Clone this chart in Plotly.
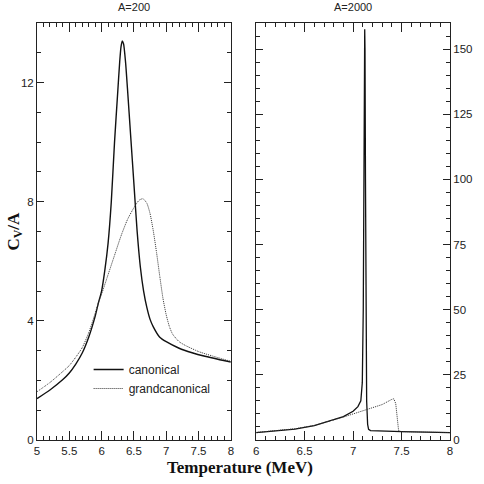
import plotly.graph_objects as go

# ---- data ----
t200_can = [5.0, 5.2, 5.4, 5.5, 5.6, 5.7, 5.8, 5.9, 5.95, 6.0, 6.05, 6.1, 6.15, 6.2, 6.25, 6.28, 6.30, 6.32, 6.34,
            6.37, 6.40, 6.45, 6.50, 6.55, 6.6, 6.65, 6.7, 6.75, 6.8, 6.9, 7.0, 7.2, 7.4, 7.6, 7.8, 8.0]
c200_can = [1.39, 1.68, 2.03, 2.25, 2.55, 2.92, 3.45, 4.15, 4.6, 5.0, 5.7, 6.6, 8.0, 10.0, 11.7, 12.7, 13.2, 13.4, 13.3,
            12.7, 11.8, 10.2, 8.6, 7.0, 5.8, 5.0, 4.45, 4.05, 3.8, 3.45, 3.3, 3.08, 2.93, 2.81, 2.71, 2.62]

t200_gc = [5.0, 5.2, 5.4, 5.5, 5.6, 5.7, 5.8, 5.9, 5.95, 6.0, 6.1, 6.2, 6.3, 6.4, 6.5, 6.58, 6.64, 6.7, 6.75,
           6.8, 6.85, 6.9, 6.95, 7.0, 7.05, 7.1, 7.2, 7.3, 7.5, 7.7, 8.0]
c200_gc = [1.62, 1.93, 2.3, 2.5, 2.78, 3.1, 3.6, 4.25, 4.6, 4.9, 5.55, 6.2, 6.85, 7.4, 7.8, 8.05, 8.1, 7.95, 7.6,
           7.02, 6.3, 5.5, 4.75, 4.2, 3.8, 3.55, 3.3, 3.17, 2.97, 2.83, 2.64]

t2000_can = [6.0, 6.2, 6.4, 6.6, 6.8, 6.9, 7.0, 7.05, 7.08, 7.095, 7.105, 7.112, 7.118, 7.12, 7.123, 7.128,
             7.133, 7.14, 7.15, 7.16, 7.18, 7.3, 7.5, 7.75, 8.0]
c2000_can = [2.8, 3.4, 4.2, 5.5, 7.7, 9.0, 11.0, 12.8, 15.0, 22, 50, 100, 150, 157.6, 150, 100,
             50, 15, 6, 4.1, 3.6, 3.4, 3.2, 3.0, 2.85]

t2000_gc = [6.0, 6.2, 6.4, 6.6, 6.8, 6.9, 7.0, 7.1, 7.2, 7.3, 7.4, 7.42, 7.44, 7.45, 7.46, 7.47, 7.5, 7.75, 8.0]
c2000_gc = [2.9, 3.5, 4.3, 5.6, 7.6, 8.8, 10.0, 11.2, 12.3, 13.6, 15.6, 15.8, 14.0, 10, 6, 3.5, 3.2, 3.0, 2.85]

panel_titles = ["A=200", "A=2000"]
x_title = "Temperature (MeV)"
y_title = "C<sub>V</sub>/A"

FONT = "Liberation Sans, Arial, sans-serif"
SERIF = "Liberation Serif, Times New Roman, serif"
INK = "#222222"

fig = go.Figure()
fig.add_trace(go.Scatter(x=t200_can, y=c200_can, mode="lines", name="canonical",
                         line=dict(color="#111111", width=1.4, shape="spline", smoothing=0.6),
                         xaxis="x", yaxis="y"))
fig.add_trace(go.Scatter(x=t200_gc, y=c200_gc, mode="lines", name="grandcanonical",
                         line=dict(color="#333333", width=1, dash="1px,1px", shape="spline", smoothing=0.6),
                         xaxis="x", yaxis="y"))
fig.add_trace(go.Scatter(x=t2000_can, y=c2000_can, mode="lines", showlegend=False,
                         line=dict(color="#111111", width=1.3), xaxis="x2", yaxis="y2"))
fig.add_trace(go.Scatter(x=t2000_gc, y=c2000_gc, mode="lines", showlegend=False,
                         line=dict(color="#333333", width=1, dash="1px,1px"), xaxis="x2", yaxis="y2"))

L, R, T, B = 37, 23, 23, 44
W = 484 - L - R
H = 484 - T - B
d1 = (236 - L) / W
d2 = (262 - L) / W

axis_common = dict(showline=True, linecolor=INK, linewidth=1, mirror="allticks", ticks="inside",
                   tickcolor=INK, tickwidth=1, showgrid=False, zeroline=False,
                   tickfont=dict(family=FONT, size=11.5, color=INK))

fig.update_layout(
    width=484, height=484,
    margin=dict(l=L, r=R, t=T, b=B),
    paper_bgcolor="white", plot_bgcolor="white",
    showlegend=True,
    legend=dict(x=(90 - L) / W, y=(440 - 355) / H, xanchor="left", yanchor="top",
                bgcolor="rgba(0,0,0,0)", font=dict(family=FONT, size=12, color=INK),
                itemwidth=30, tracegroupgap=0),
    xaxis=dict(domain=[0, d1], range=[5, 8], dtick=0.5, ticklen=9, anchor="y",
               minor=dict(dtick=0.1, ticklen=4, ticks="inside", tickcolor=INK), **axis_common),
    yaxis=dict(domain=[0, 1], range=[0, 14], dtick=4, ticklen=7, anchor="x",
               minor=dict(dtick=1, ticklen=4, ticks="inside", tickcolor=INK), **axis_common),
    xaxis2=dict(domain=[d2, 1], range=[6, 8], dtick=0.5, ticklen=9, anchor="y2",
                minor=dict(dtick=0.1, ticklen=4, ticks="inside", tickcolor=INK), **axis_common),
    yaxis2=dict(domain=[0, 1], range=[0, 160], dtick=25, ticklen=7, anchor="x2", side="right",
                minor=dict(dtick=5, ticklen=4, ticks="inside", tickcolor=INK), **axis_common),
    annotations=[
        dict(text=panel_titles[0], x=d1 / 2, y=1, xref="paper", yref="paper", xanchor="center",
             yanchor="bottom", yshift=8, showarrow=False, font=dict(family=FONT, size=11, color=INK)),
        dict(text=panel_titles[1], x=(d2 + 1) / 2, y=1, xref="paper", yref="paper", xanchor="center",
             yanchor="bottom", yshift=8, showarrow=False, font=dict(family=FONT, size=11, color=INK)),
        dict(text="<b>" + x_title + "</b>", x=(245 - L) / W, y=0, xref="paper", yref="paper",
             xanchor="center", yanchor="top", yshift=-16, showarrow=False,
             font=dict(family=SERIF, size=17, color="#111111")),
        dict(text="<b>" + y_title + "</b>", x=0, y=0.5, xref="paper", yref="paper",
             xanchor="center", yanchor="middle", xshift=-23, textangle=-90, showarrow=False,
             font=dict(family=SERIF, size=17, color="#111111")),
    ],
)

fig.write_html("out.html", config={"displayModeBar": False},
               post_script="document.body.style.margin='0px';document.body.style.overflow='hidden';")
